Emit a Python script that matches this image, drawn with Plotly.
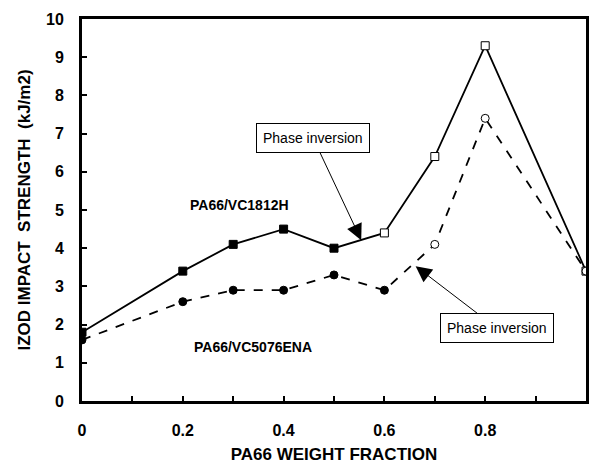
import plotly.graph_objects as go

fraction = [0, 0.2, 0.3, 0.4, 0.5, 0.6, 0.7, 0.8, 1.0]
vc1812h = [1.8, 3.4, 4.1, 4.5, 4.0, 4.4, 6.4, 9.3, 3.4]
vc1812h_fill = ["black", "black", "black", "black", "black", "white", "white", "white", "white"]
vc5076ena = [1.6, 2.6, 2.9, 2.9, 3.3, 2.9, 4.1, 7.4, 3.4]
vc5076ena_fill = ["black", "black", "black", "black", "black", "black", "white", "white", "white"]

FONT = "Liberation Sans, Arial, sans-serif"

fig = go.Figure()
fig.add_trace(go.Scatter(
    x=fraction, y=vc1812h, mode="lines+markers", name="PA66/VC1812H",
    line=dict(color="black", width=1.8),
    marker=dict(symbol="square", size=8, color=vc1812h_fill,
                line=dict(color="black", width=1)),
))
fig.add_trace(go.Scatter(
    x=fraction, y=vc5076ena, mode="lines+markers", name="PA66/VC5076ENA",
    line=dict(color="black", width=1.8, dash="dash"),
    marker=dict(symbol="circle", size=8, color=vc5076ena_fill,
                line=dict(color="black", width=1)),
))

fig.add_annotation(x=0.313, y=5.13, text="<b>PA66/VC1812H</b>", showarrow=False,
                   font=dict(family=FONT, size=14, color="black"))
fig.add_annotation(x=0.339, y=1.41, text="<b>PA66/VC5076ENA</b>", showarrow=False,
                   font=dict(family=FONT, size=14, color="black"))

fig.add_annotation(x=0.554, y=4.21, text="Phase inversion", showarrow=True,
                   ax=-48, ay=-102, arrowhead=2, arrowsize=3.2, arrowwidth=1,
                   arrowcolor="black", bordercolor="black", borderwidth=1,
                   borderpad=6, bgcolor="white",
                   font=dict(family=FONT, size=14, color="black"))
fig.add_annotation(x=0.662, y=3.53, text="Phase inversion", showarrow=True,
                   ax=81, ay=62, arrowhead=2, arrowsize=3.2, arrowwidth=1,
                   arrowcolor="black", bordercolor="black", borderwidth=1,
                   borderpad=6, bgcolor="white",
                   font=dict(family=FONT, size=14, color="black"))

fig.update_layout(
    width=589, height=468,
    margin=dict(l=82, r=0, t=19, b=67),
    paper_bgcolor="white", plot_bgcolor="white",
    showlegend=False,
    font=dict(family=FONT, color="black"),
    xaxis=dict(
        range=[0, 1.0], tickvals=[0, 0.2, 0.4, 0.6, 0.8, 1.0],
        ticktext=["0", "0.2", "0.4", "0.6", "0.8", "1"],
        ticks="inside", ticklen=5, tickwidth=2, tickcolor="black",
        minor=dict(tickvals=[0.1, 0.3, 0.5, 0.7, 0.9], ticks="inside", ticklen=5,
                   tickwidth=2, tickcolor="black"),
        showline=True, linewidth=3, linecolor="black", mirror=True,
        showgrid=False, zeroline=False,
        tickfont=dict(family=FONT, size=16, color="black", weight="bold"),
        ticklabelstandoff=13,
        title=dict(text="<b>PA66 WEIGHT FRACTION</b>", standoff=10,
                   font=dict(family=FONT, size=17, color="black")),
    ),
    yaxis=dict(
        range=[0, 10], dtick=1,
        ticks="inside", ticklen=5, tickwidth=2, tickcolor="black",
        showline=True, linewidth=3, linecolor="black", mirror=True,
        showgrid=False, zeroline=False,
        tickfont=dict(family=FONT, size=16, color="black", weight="bold"),
        ticklabelstandoff=12,
        title=dict(text="<b>IZOD IMPACT  STRENGTH  (kJ/m2)</b>", standoff=12,
                   font=dict(family=FONT, size=17, color="black")),
    ),
)

fig.write_html("out.html")
